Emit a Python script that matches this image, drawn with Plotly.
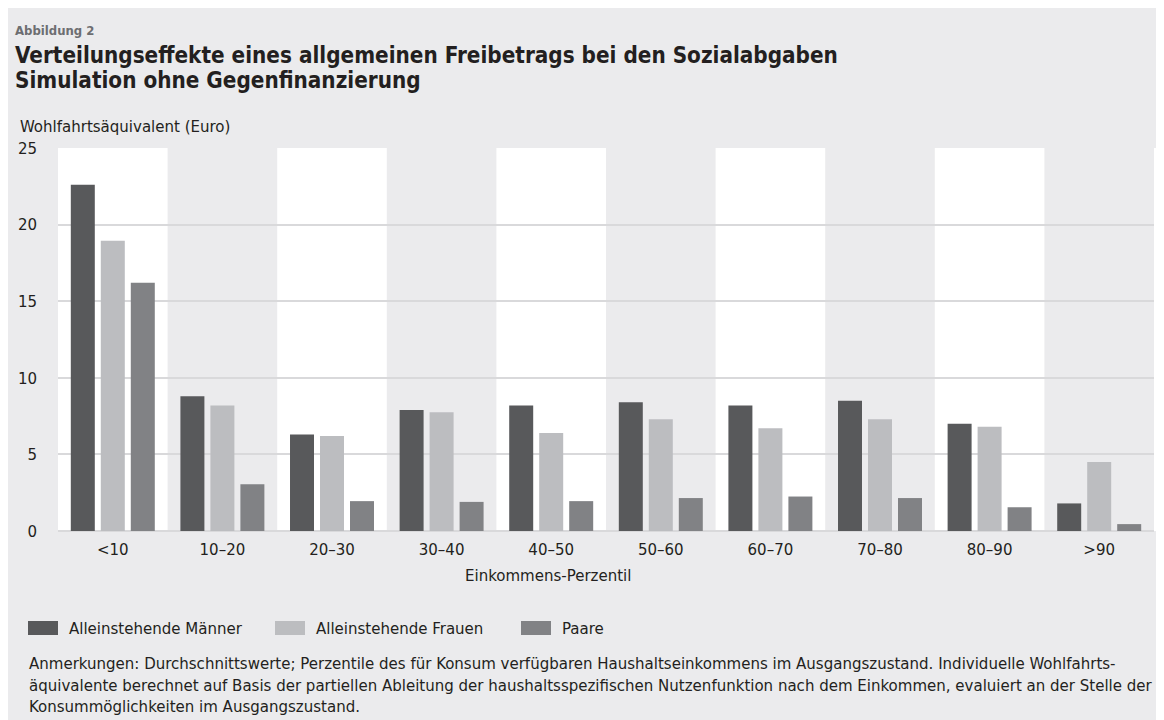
import plotly.graph_objects as go

categories = ["<10", "10–20", "20–30", "30–40", "40–50", "50–60", "60–70", "70–80", "80–90", ">90"]
maenner = [22.6, 8.8, 6.3, 7.9, 8.2, 8.4, 8.2, 8.5, 7.0, 1.8]
frauen = [18.95, 8.2, 6.2, 7.75, 6.4, 7.3, 6.7, 7.3, 6.8, 4.5]
paare = [16.2, 3.05, 1.95, 1.9, 1.95, 2.15, 2.25, 2.15, 1.55, 0.45]
series_names = ["Alleinstehende Männer", "Alleinstehende Frauen", "Paare"]
y_ticks = [0, 5, 10, 15, 20, 25]

FONT = "DejaVu Sans Condensed, Liberation Sans Narrow, sans-serif"
TXT = "#231f20"
PANEL = "#ebebed"
GRID = "#d9d9db"
colors = ["#58595b", "#bcbdc0", "#818285"]

# page has an 8px body margin: figure coords = screen coords - 8
OFF = 8
W, H = 1156, 712
SL, SR, ST, SB = 58, 1154, 148, 531  # plot area in screen coords
L, R, T, B = SL - OFF, SR - OFF, ST - OFF, SB - OFF


def px(sx):
    return (sx - SL) / (SR - SL)


def py(sy):
    return (SB - sy) / (SB - ST)


fig = go.Figure()
for name, vals, c in zip(series_names, [maenner, frauen, paare], colors):
    fig.add_trace(go.Bar(x=categories, y=vals, name=name, showlegend=False,
                         marker=dict(color=c, line=dict(width=0))))

shapes = []
for i in range(0, len(categories), 2):
    shapes.append(dict(type="rect", xref="x", yref="paper", x0=i - 0.5, x1=i + 0.5, y0=0, y1=1,
                       fillcolor="white", line=dict(width=0), layer="below"))
shapes.append(dict(type="rect", xref="paper", yref="paper", x0=1, x1=px(1159), y0=0, y1=1,
                   fillcolor="white", line=dict(width=0), layer="below"))

def ann(text, sx, sy, size, color=TXT, xanchor="left", yanchor="middle", align="left"):
    return dict(text=text, x=px(sx), y=py(sy), xref="paper", yref="paper", xanchor=xanchor,
                yanchor=yanchor, align=align, showarrow=False,
                font=dict(family=FONT, size=size, color=color))

annotations = [
    ann("<b>Abbildung 2</b>", 13, 31, 13, color="#6d6e71"),
    ann("<b>Verteilungseffekte eines allgemeinen Freibetrags bei den Sozialabgaben</b>", 13, 55, 22.3),
    ann("<b>Simulation ohne Gegenfinanzierung</b>", 13, 80, 22.3),
    ann("Wohlfahrtsäquivalent (Euro)", 18, 126, 16.7),
    ann("Einkommens-Perzentil", 548, 575, 16.7, xanchor="center"),
    ann("Anmerkungen: Durchschnittswerte; Perzentile des für Konsum verfügbaren Haushaltseinkommens im Ausgangszustand. Individuelle Wohlfahrts-<br>"
        "äquivalente berechnet auf Basis der partiellen Ableitung der haushaltsspezifischen Nutzenfunktion nach dem Einkommen, evaluiert an der Stelle der<br>"
        "Konsummöglichkeiten im Ausgangszustand.", 27, 651, 16.7, yanchor="top"),
]

# legend drawn as swatches + labels
leg_x = [28, 275, 521]
leg_y = 628
for name, c, lx in zip(series_names, colors, leg_x):
    shapes.append(dict(type="rect", xref="paper", yref="paper", x0=px(lx), x1=px(lx + 30),
                       y0=py(leg_y + 7), y1=py(leg_y - 7), fillcolor=c, line=dict(width=0)))
    annotations.append(ann(name, lx + 39, leg_y, 16.7))

fig.update_layout(
    width=W, height=H,
    margin=dict(l=L, r=W - R, t=T, b=H - B, pad=0),
    paper_bgcolor=PANEL,
    plot_bgcolor="rgba(0,0,0,0)",
    barmode="group",
    bargap=0.179,
    bargroupgap=0.2,
    font=dict(family=FONT, size=16.7, color=TXT),
    shapes=shapes,
    annotations=annotations,
    showlegend=False,
    xaxis=dict(range=[-0.5, 9.5], showgrid=False, ticks="", tickfont=dict(size=16.7),
               ticklabelstandoff=6, showline=False, zeroline=False),
    yaxis=dict(range=[0, 25], tickvals=y_ticks, showgrid=True, gridcolor=GRID, gridwidth=2,
               zeroline=True, zerolinecolor=GRID, zerolinewidth=2, ticks="",
               ticklabelstandoff=20, tickfont=dict(size=16.7)),
)

fig.write_html("out.html")
